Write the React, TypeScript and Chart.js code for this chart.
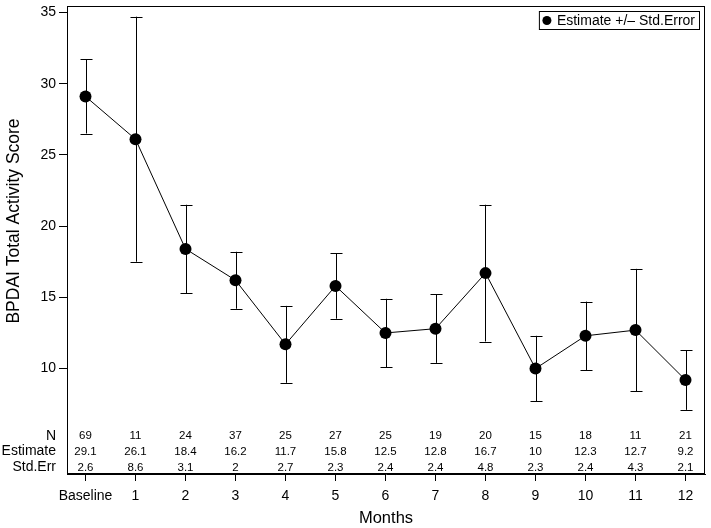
import React, { useEffect, useRef } from "react";
import { Chart, registerables } from "chart.js";

Chart.register(...registerables);

const CATEGORIES = ["Baseline", "1", "2", "3", "4", "5", "6", "7", "8", "9", "10", "11", "12"];
const N_VALUES = [69, 11, 24, 37, 25, 27, 25, 19, 20, 15, 18, 11, 21];
const ESTIMATES = [29.1, 26.1, 18.4, 16.2, 11.7, 15.8, 12.5, 12.8, 16.7, 10, 12.3, 12.7, 9.2];
const STD_ERR = [2.6, 8.6, 3.1, 2, 2.7, 2.3, 2.4, 2.4, 4.8, 2.3, 2.4, 4.3, 2.1];
const ESTIMATE_LABELS = ["29.1", "26.1", "18.4", "16.2", "11.7", "15.8", "12.5", "12.8", "16.7", "10", "12.3", "12.7", "9.2"];
const Y_TICKS = [10, 15, 20, 25, 30, 35];
const ROW_LABELS = ["N", "Estimate", "Std.Err"];
const Y_TITLE = "BPDAI Total Activity Score";
const X_TITLE = "Months";
const LEGEND_TEXT = "Estimate +/\u2013 Std.Error";

const FONT = "'Liberation Sans', Arial, sans-serif";

const framePlugin = {
  id: "frame",
  afterDraw(chart: any) {
    const { ctx, chartArea } = chart;
    ctx.save();
    ctx.strokeStyle = "#000";
    ctx.lineWidth = 1;
    ctx.strokeRect(
      Math.round(chartArea.left) + 0.5,
      Math.round(chartArea.top) + 0.5,
      Math.round(chartArea.right - chartArea.left) - 1,
      Math.round(chartArea.bottom - chartArea.top) - 1
    );
    ctx.restore();
  },
};

const errorBarPlugin = {
  id: "errorBars",
  beforeDatasetsDraw(chart: any) {
    const { ctx } = chart;
    const xs = chart.scales.x;
    const ys = chart.scales.y;
    ctx.save();
    ctx.strokeStyle = "#000";
    ctx.lineWidth = 1;
    ESTIMATES.forEach((est, i) => {
      const x = Math.round(xs.getPixelForValue(i)) + 0.5;
      const yLo = ys.getPixelForValue(est - STD_ERR[i]);
      const yHi = ys.getPixelForValue(est + STD_ERR[i]);
      ctx.beginPath();
      ctx.moveTo(x, yLo);
      ctx.lineTo(x, yHi);
      ctx.moveTo(x - 6, Math.round(yLo) + 0.5);
      ctx.lineTo(x + 6, Math.round(yLo) + 0.5);
      ctx.moveTo(x - 6, Math.round(yHi) + 0.5);
      ctx.lineTo(x + 6, Math.round(yHi) + 0.5);
      ctx.stroke();
    });
    ctx.restore();
  },
};

const tablePlugin = {
  id: "axisTable",
  afterDraw(chart: any) {
    const { ctx, chartArea } = chart;
    const xs = chart.scales.x;
    const rows = [
      N_VALUES.map((v) => String(v)),
      ESTIMATE_LABELS,
      STD_ERR.map((v) => String(v)),
    ];
    const offsets = [38, 22.5, 6.5];
    ctx.save();
    ctx.fillStyle = "#000";
    ctx.textBaseline = "middle";
    rows.forEach((row, r) => {
      const y = chartArea.bottom - offsets[r];
      ctx.font = `14px ${FONT}`;
      ctx.textAlign = "right";
      ctx.fillText(ROW_LABELS[r], chartArea.left - 11, y);
      ctx.font = `11.5px ${FONT}`;
      ctx.textAlign = "center";
      row.forEach((txt, i) => {
        ctx.fillText(txt, xs.getPixelForValue(i), y);
      });
    });
    // y axis title, centred on the graph region above the table
    const cy = (chartArea.top + chartArea.bottom - 38) / 2;
    ctx.translate(14, cy);
    ctx.rotate(-Math.PI / 2);
    ctx.font = `17.5px ${FONT}`;
    ctx.textAlign = "center";
    ctx.textBaseline = "middle";
    ctx.fillText(Y_TITLE, 0, 0);
    ctx.restore();
  },
};

const legendPlugin = {
  id: "insetLegend",
  afterDraw(chart: any) {
    const { ctx, chartArea } = chart;
    ctx.save();
    ctx.font = `14px ${FONT}`;
    const tw = ctx.measureText(LEGEND_TEXT).width;
    const right = Math.round(chartArea.right) - 6;
    const top = Math.round(chartArea.top) + 5;
    const h = 18;
    const w = tw + 22;
    const left = right - w;
    ctx.strokeStyle = "#000";
    ctx.lineWidth = 1;
    ctx.strokeRect(left + 0.5, top + 0.5, w, h);
    ctx.fillStyle = "#000";
    ctx.beginPath();
    ctx.arc(left + 8, top + h / 2 + 0.5, 4.5, 0, Math.PI * 2);
    ctx.fill();
    ctx.textAlign = "left";
    ctx.textBaseline = "middle";
    ctx.fillText(LEGEND_TEXT, left + 18, top + h / 2 + 1);
    ctx.restore();
  },
};

export default function App() {
  const canvasRef = useRef<HTMLCanvasElement | null>(null);

  useEffect(() => {
    if (!canvasRef.current) return;
    const chart = new Chart(canvasRef.current, {
      type: "line",
      data: {
        datasets: [
          {
            label: LEGEND_TEXT,
            data: ESTIMATES.map((y, i) => ({ x: i, y })),
            borderColor: "#000",
            borderWidth: 1,
            backgroundColor: "#000",
            pointRadius: 6,
            pointBackgroundColor: "#000",
            pointBorderWidth: 0,
            tension: 0,
          },
        ],
      },
      options: {
        responsive: false,
        animation: false,
        layout: { padding: { top: 2, right: 1, left: 0, bottom: 0 } },
        plugins: {
          legend: { display: false },
          tooltip: { enabled: false },
        },
        scales: {
          x: {
            type: "linear",
            min: -0.37,
            max: 12.39,
            afterBuildTicks: (scale: any) => {
              scale.ticks = CATEGORIES.map((_, i) => ({ value: i }));
            },
            afterFit: (scale: any) => {
              scale.height = 54;
              scale.paddingLeft = 0;
              scale.paddingRight = 0;
            },
            grid: { drawOnChartArea: false, color: "#000", tickLength: 7 },
            border: { display: true, color: "#000" },
            ticks: {
              color: "#000",
              font: { family: FONT, size: 14 },
              padding: 7,
              maxRotation: 0,
              autoSkip: false,
              callback: (v: any) => CATEGORIES[Math.round(Number(v))] ?? "",
            },
            title: {
              display: true,
              text: X_TITLE,
              color: "#000",
              font: { family: FONT, size: 16.5 },
              padding: { top: 0, bottom: 0 },
            },
          },
          y: {
            type: "linear",
            min: 2.6,
            max: 35.45,
            afterBuildTicks: (scale: any) => {
              scale.ticks = Y_TICKS.map((v) => ({ value: v }));
            },
            afterFit: (scale: any) => {
              scale.width = 67;
              scale.paddingTop = 0;
              scale.paddingBottom = 0;
            },
            grid: { drawOnChartArea: false, color: "#000", tickLength: 8 },
            border: { display: true, color: "#000" },
            ticks: {
              color: "#000",
              font: { family: FONT, size: 14 },
              padding: 3,
            },
          },
        },
      },
      plugins: [errorBarPlugin, framePlugin, tablePlugin, legendPlugin],
    });
    return () => chart.destroy();
  }, []);

  return (
    <div style={{ position: "absolute", left: 0, top: 0, width: 711, height: 528, background: "#fff" }}>
      <canvas ref={canvasRef} width={711} height={528} style={{ display: "block" }} />
    </div>
  );
}
